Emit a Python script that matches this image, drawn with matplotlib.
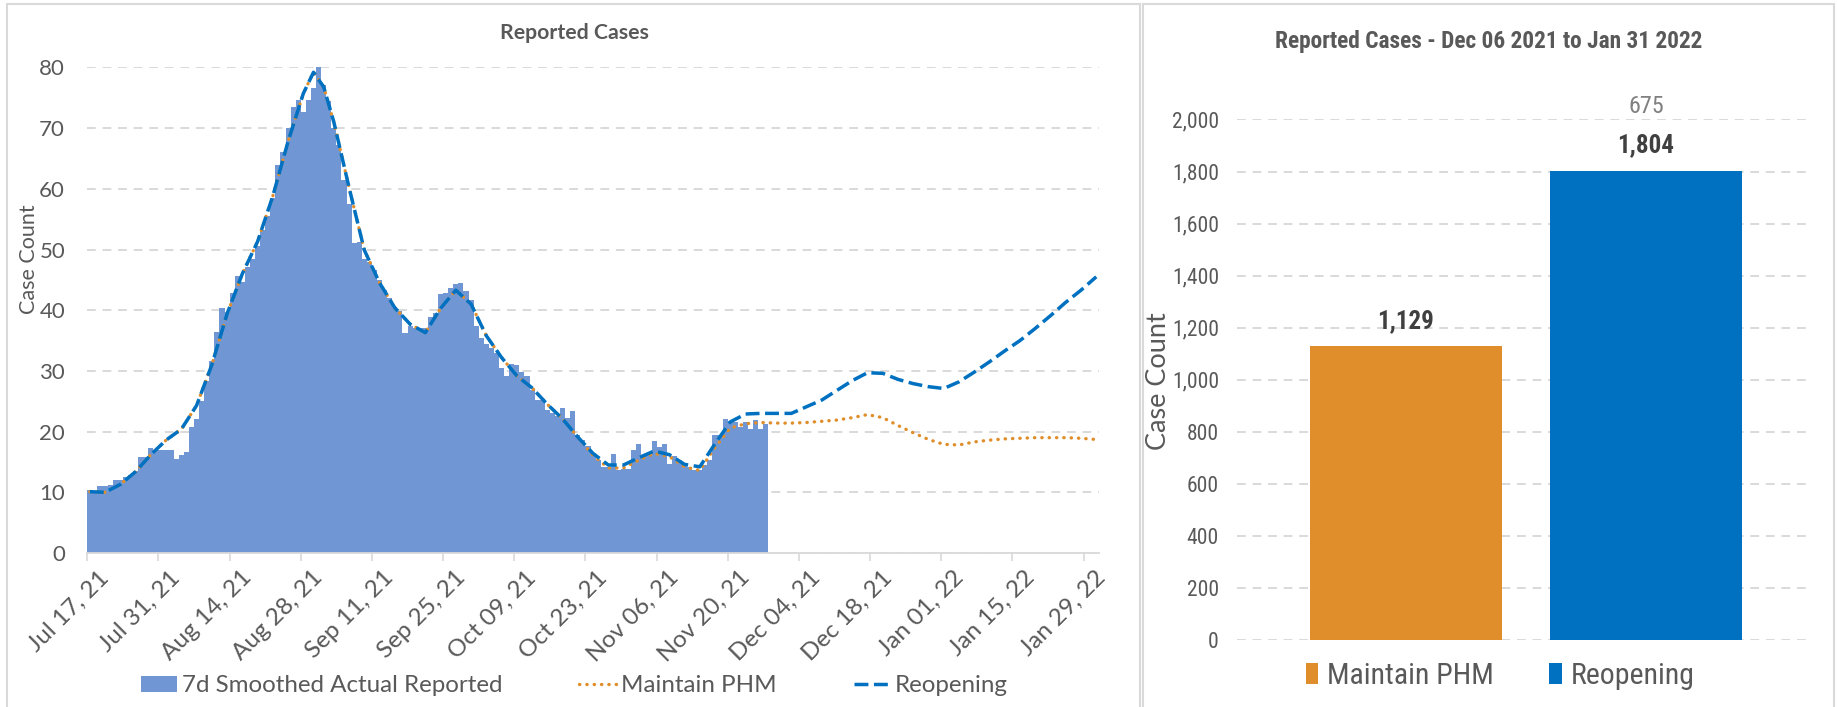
import numpy as np
import pandas as pd
import matplotlib
matplotlib.use('Agg')
import matplotlib.pyplot as plt
from matplotlib import font_manager
from matplotlib.patches import Patch, Rectangle
from matplotlib.lines import Line2D
from matplotlib.transforms import ScaledTranslation
from matplotlib.ticker import FuncFormatter

# fonts: Calibri-like look, a narrow face for the squeezed right panel
names = {f.name for f in font_manager.fontManager.ttflist}
base_font = 'Lato' if 'Lato' in names else 'DejaVu Sans'
narrow_font = next((n for n in ['Liberation Sans Narrow', 'Roboto Condensed'] if n in names), base_font)
plt.rcParams['font.family'] = base_font

# ---- data ----
start = '2021-07-17'

# daily 7d smoothed reported cases, Jul 17 - Nov 27 2021
reported = [10.4, 10.2, 11.0, 11.0, 11.2, 12.0, 12.1, 12.5, 12.9, 13.5,
            15.8, 15.8, 17.3, 17.0, 17.0, 17.0, 17.0, 15.5, 16.2, 16.7,
            20.7, 22.1, 25.1, 28.4, 31.7, 36.4, 40.4, 39.7, 42.8, 45.7,
            44.7, 47.1, 48.4, 50.5, 53.2, 55.5, 58.5, 63.9, 66.0, 70.0,
            73.4, 74.6, 72.6, 74.6, 76.6, 80.0, 77.1, 74.4, 70.0, 67.2,
            61.4, 57.5, 51.1, 51.3, 48.5, 47.9, 46.6, 45.0, 43.4, 42.0,
            40.5, 39.8, 36.3, 37.4, 37.0, 37.0, 37.0, 38.9, 39.6, 42.7,
            42.8, 43.6, 44.3, 44.4, 43.1, 41.7, 37.4, 35.5, 34.5, 33.7,
            32.9, 30.5, 29.1, 31.2, 31.0, 29.9, 29.2, 26.9, 25.2, 25.2,
            23.6, 23.0, 22.5, 23.9, 22.2, 23.4, 19.4, 18.6, 17.7, 16.4,
            15.4, 14.2, 14.2, 16.3, 13.6, 13.9, 13.9, 16.9, 18.0, 16.0,
            16.3, 18.5, 17.5, 18.0, 14.7, 15.9, 15.3, 14.8, 14.1, 13.6,
            13.6, 14.5, 15.3, 19.4, 19.4, 22.1, 21.8, 21.6, 20.8, 21.5,
            20.5, 21.9, 20.4, 21.3]

# model curves, read at these day offsets from Jul 17
line_days = [0, 3, 6, 9, 12, 15, 18, 21, 24, 27, 30, 33, 36, 39, 42, 44, 46, 48,
             51, 54, 57, 60, 63, 66, 69, 72, 75, 78, 81, 84, 87, 90, 93, 96,
             99, 102, 105, 108, 111, 114, 117, 120, 123, 126, 129, 132, 135, 138,
             141, 144, 147, 150, 153, 156, 159, 162, 165, 168, 171, 174, 177, 180,
             183, 186, 189, 192, 195, 198]

reopening = [10.1, 10.0, 11.3, 13.4, 16.2, 18.6, 20.4, 24.3, 31.0, 39.4, 46.0, 51.3,
             58.8, 67.8, 75.7, 79.2, 76.8, 71.0,
             60.2, 49.9, 44.5, 40.4, 37.7, 36.3, 40.3, 43.3, 41.0, 35.8, 32.2, 29.2,
             27.2, 24.5, 22.1, 19.1,
             16.4, 14.5, 14.5, 15.7, 16.8, 16.2, 14.6, 14.2, 18.0, 21.6, 22.9, 23.0,
             23.0, 23.0, 24.1, 25.2, 26.8, 28.4, 29.7, 29.6, 28.6, 27.9, 27.4, 27.1,
             28.2, 29.8, 31.5, 33.3, 35.0, 37.0, 39.1, 41.3, 43.3, 45.5]

maintain_phm = [10.1, 10.0, 11.3, 13.4, 16.2, 18.6, 20.4, 24.3, 31.0, 39.4, 46.0, 51.3,
                58.8, 67.8, 75.7, 79.2, 76.8, 71.0,
                60.2, 49.9, 44.5, 40.4, 37.7, 36.3, 40.3, 43.3, 41.0, 35.8, 32.2, 29.2,
                27.2, 24.5, 22.1, 19.1,
                16.1, 14.0, 14.0, 15.3, 16.4, 15.9, 14.2, 13.6, 17.4, 20.6, 21.3, 21.5,
                21.4, 21.4, 21.5, 21.7, 21.9, 22.3, 22.8, 22.3, 21.0, 19.8, 18.7, 17.9,
                17.8, 18.3, 18.6, 18.8, 18.9, 19.0, 19.0, 19.0, 18.9, 18.7]

scenarios = ['Maintain PHM', 'Reopening']
total_cases = [1129, 1804]

# ---- colours ----
grey_txt = '#595959'
grid_col = '#D9D9D9'
bar_blue = '#7097D3'
orange = '#E08E2B'
blue = '#0070C0'

W, H = 1837, 707
fig = plt.figure(figsize=(W / 100, H / 100), dpi=100)

# panel frames
fig.add_artist(Rectangle((7 / W, -0.01), (1140 - 7) / W, (707 - 4) / H + 0.01,
                         transform=fig.transFigure, fill=False, ec=grid_col, lw=1.5))
fig.add_artist(Rectangle((1143 / W, -0.01), (1834 - 1143) / W, (707 - 4) / H + 0.01,
                         transform=fig.transFigure, fill=False, ec=grid_col, lw=1.5))

# ---- left: reported cases over time ----
axL = fig.add_axes([87.3 / W, 1 - 553 / H, (1098.8 - 87.3) / W, (553 - 67.4) / H])
t0 = pd.Timestamp(start)
bar_dates = pd.date_range(start, periods=len(reported), freq='D')
axL.bar(bar_dates, reported, width=1.0, align='edge', color=bar_blue, linewidth=0, zorder=2)
line_dates = t0 + pd.to_timedelta(np.array(line_days) + 0.5, unit='D')
axL.plot(line_dates, maintain_phm, color=orange, lw=2.4, ls=(0, (0.1, 2.1)),
         dash_capstyle='round', zorder=4)
axL.plot(line_dates, reopening, color=blue, lw=2.5, ls=(0, (4, 1.6)), zorder=5)

axL.set_xlim(t0, t0 + pd.Timedelta(days=199))
axL.set_ylim(0, 80)
axL.set_yticks(range(0, 81, 10))
ticks = pd.date_range(start, periods=15, freq='14D')
axL.set_xticks(ticks)
axL.set_xticklabels([d.strftime('%b %d, %y') for d in ticks], rotation=45,
                    ha='right', va='top', rotation_mode='anchor')
axL.yaxis.grid(True, color=grid_col, lw=1.4, ls=(0, (4.5, 3.5)))
axL.set_axisbelow(True)
for s in ['top', 'left', 'right']:
    axL.spines[s].set_visible(False)
axL.spines['bottom'].set_color(grid_col)
axL.spines['bottom'].set_linewidth(1.3)
axL.tick_params(axis='x', length=6, width=1.2, color=grid_col, labelsize=17.5,
                labelcolor=grey_txt, pad=4)
axL.tick_params(axis='y', length=0, pad=16, labelsize=16, labelcolor=grey_txt)
off = ScaledTranslation(8 / 72, 0, fig.dpi_scale_trans)
for lab in axL.get_xticklabels():
    lab.set_transform(lab.get_transform() + off)

fig.text(29 / W, 1 - 259 / H, 'Case Count', rotation=90, ha='center', va='center',
         fontsize=15.5, color=grey_txt)
fig.text(574 / W, 1 - 33 / H, 'Reported Cases', ha='center', va='center',
         fontsize=15.3, fontweight='bold', color=grey_txt)

handlesL = [Patch(facecolor=bar_blue),
            Line2D([], [], color=orange, lw=2.4, ls=(0, (0.1, 2.1)), dash_capstyle='round'),
            Line2D([], [], color=blue, lw=2.5, ls=(0, (4, 1.6)))]
fig.legend(handlesL, ['7d Smoothed Actual Reported', 'Maintain PHM', 'Reopening'],
           loc='center', bbox_to_anchor=(574 / W, 1 - 686 / H), ncol=3, frameon=False,
           fontsize=17.4, handlelength=1.5, handleheight=0.6, handletextpad=0.2,
           columnspacing=3.2, labelcolor=grey_txt)

# ---- right: totals Dec 06 2021 - Jan 31 2022 ----
axR = fig.add_axes([1237 / W, 1 - 640 / H, (1809 - 1237) / W, (640 - 119.5) / H])
xpos = np.arange(len(scenarios))
axR.bar(xpos, total_cases, width=0.8, color=[orange, blue], linewidth=0, zorder=2)
axR.set_xlim(-0.704, 1.679)
axR.set_ylim(0, 2000)
axR.set_yticks(range(0, 2001, 200))
axR.yaxis.set_major_formatter(FuncFormatter(lambda v, p: f'{v:,.0f}'))
axR.set_xticks([])
axR.yaxis.grid(True, color=grid_col, lw=1.4, ls=(0, (4.5, 3.5)))
axR.set_axisbelow(True)
for s in axR.spines.values():
    s.set_visible(False)
axR.tick_params(axis='y', length=0, pad=13, labelsize=15.5, labelcolor=grey_txt)
for lab in axR.get_yticklabels():
    lab.set_fontfamily(narrow_font)

for x, v in zip(xpos, total_cases):
    axR.annotate(f'{v:,}', (x, v), xytext=(0, 18), textcoords='offset points',
                 ha='center', va='center', fontsize=18, fontweight='bold',
                 color='#404040', family=narrow_font)
diff = total_cases[1] - total_cases[0]
axR.annotate(f'{diff:,}', (1, total_cases[1]), xytext=(0, 46), textcoords='offset points',
             ha='center', va='center', fontsize=17.4, color='#808080', family=narrow_font)

fig.text(1158 / W, 1 - 381 / H, 'Case Count', rotation=90, ha='center', va='center',
         fontsize=19.5, color=grey_txt)
fig.text(1489 / W, 1 - 41.5 / H, 'Reported Cases - Dec 06 2021 to Jan 31 2022',
         ha='center', va='center', fontsize=16.8, fontweight='bold', color=grey_txt,
         family=narrow_font)

handlesR = [Patch(facecolor=orange), Patch(facecolor=blue)]
fig.legend(handlesR, scenarios, loc='center', bbox_to_anchor=(1500 / W, 1 - 676 / H),
           ncol=2, frameon=False, prop={'family': narrow_font, 'size': 21.5},
           handlelength=0.42, handleheight=0.66, handletextpad=0.3, columnspacing=1.85,
           labelcolor=grey_txt)

fig.savefig('out.png', dpi=100)
